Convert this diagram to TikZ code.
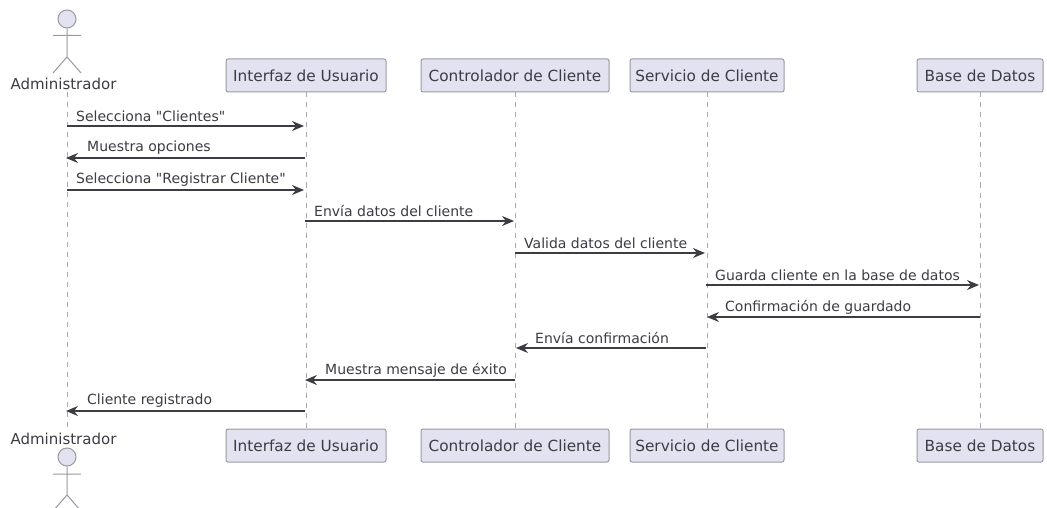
\documentclass[tikz,border=0pt]{standalone}
\usepackage{fontspec}
\setmainfont[Ligatures=TeXOff]{DejaVu Sans}
\usetikzlibrary{arrows.meta}
\definecolor{pfill}{HTML}{E2E2F0}
\definecolor{pline}{HTML}{9A9AA4}
\definecolor{ink}{HTML}{3C3C44}
\tikzset{x=1pt,y=-1pt,
 part/.style={draw=pline,fill=pfill,rounded corners=2pt,line width=1pt,minimum height=33pt,inner sep=0pt,text=ink,font=\fontsize{15.3}{17}\selectfont,anchor=center},
 life/.style={draw=pline!85,line width=1pt,dash pattern=on 5pt off 5pt},
 msg/.style={draw=ink,line width=1.1pt,-{Stealth[length=12pt,width=10pt,inset=4pt]}},
 lbl/.style={font=\fontsize{14}{16}\selectfont,text=ink,anchor=west,inner sep=0pt},
 actorlbl/.style={font=\fontsize{15}{17}\selectfont,text=ink,inner sep=0pt,minimum height=14pt},
 stick/.style={draw=pline,line width=1pt},
 headc/.style={draw=pline,fill=pfill,line width=1pt,circle,minimum size=18pt,inner sep=0pt}}
\newcommand{\mymsg}[5]{% from x, to x, y, label x, text
 \coordinate (s#3) at (#1,#3); \coordinate (e#3) at (#2,#3);
 \draw[msg] (s#3) -- (e#3);
 \node[lbl] (t#3) at (#4,#3-10) {#5};}
\begin{document}
\begin{tikzpicture}
\useasboundingbox (0,0) rectangle (1047,508);
\fill[white] (0,0) rectangle (1047,508);
% participants
\node[part,minimum width=160pt] (i1) at (306,75.5) {Interfaz de Usuario};
\node[part,minimum width=188pt] (c1) at (515,75.5) {Controlador de Cliente};
\node[part,minimum width=154pt] (v1) at (707,75.5) {Servicio de Cliente};
\node[part,minimum width=126pt] (b1) at (980,75.5) {Base de Datos};
\node[part,minimum width=160pt] (i2) at (306,445.5) {Interfaz de Usuario};
\node[part,minimum width=188pt] (c2) at (515,445.5) {Controlador de Cliente};
\node[part,minimum width=154pt] (v2) at (707,445.5) {Servicio de Cliente};
\node[part,minimum width=126pt] (b2) at (980,445.5) {Base de Datos};
\node[actorlbl] (a1) at (63.5,84) {Administrador};
\node[actorlbl] (a2) at (63.5,439) {Administrador};
% lifelines
\coordinate (la1) at (67,92); \coordinate (la2) at (67,431);
\draw[life] (la1) -- (la2);
\draw[life] (i1.south) -- (i2.north);
\draw[life] (c1.south) -- (c2.north);
\draw[life] (v1.south) -- (v2.north);
\draw[life] (b1.south) -- (b2.north);
% actors
\node[headc] (h1) at (67,19) {};
\coordinate (w1) at (67,57);
\coordinate (al1) at (53,35.5); \coordinate (ar1) at (81,35.5);
\coordinate (fl1) at (53,73); \coordinate (fr1) at (81,73);
\draw[stick] (h1.south) -- (w1) (al1) -- (ar1) (fl1) -- (w1) -- (fr1);
\node[headc] (h2) at (67,457) {};
\coordinate (al2) at (53,474); \coordinate (ar2) at (81,474);
\coordinate (w2) at (67,495); \coordinate (fl2) at (53,511); \coordinate (fr2) at (81,511);
\draw[stick] (h2.south) -- (w2) (al2) -- (ar2) (fl2) -- (w2) -- (fr2);
% messages
\mymsg{67}{304}{126}{76}{Selecciona "Clientes"}
\mymsg{305}{66}{158}{87}{Muestra opciones}
\mymsg{67}{304}{190}{76}{Selecciona "Registrar Cliente"}
\mymsg{305}{514}{221}{314}{Envía datos del cliente}
\mymsg{515}{705}{253}{524}{Valida datos del cliente}
\mymsg{706}{979}{285}{715}{Guarda cliente en la base de datos}
\mymsg{980}{707}{317}{725}{Confirmación de guardado}
\mymsg{706}{516}{348}{535}{Envía confirmación}
\mymsg{515}{305}{380}{325}{Muestra mensaje de éxito}
\mymsg{305}{66}{411}{87}{Cliente registrado}
\end{tikzpicture}
\end{document}
